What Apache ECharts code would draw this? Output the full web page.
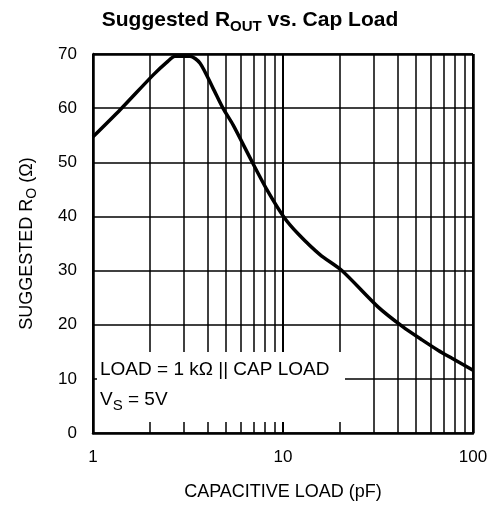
<!DOCTYPE html>
<html><head><meta charset="utf-8">
<script src="https://cdn.jsdelivr.net/npm/echarts@6/dist/echarts.min.js"></script>
<style>html,body{margin:0;padding:0;background:#fff}#c{width:500px;height:514px}</style>
</head><body><div id="c"></div>
<script>
// Data
const capLoad = [1, 1.39, 2.07, 2.45, 2.7, 3.24, 3.66, 4.28, 4.83, 5.46, 6.87, 8.24, 10.1, 12.0, 15.7, 20.4, 31.6, 42.8, 53.9, 65.4, 77.5, 100];
const suggestedRo = [54.7, 59.7, 66.1, 68.5, 69.6, 69.6, 68.3, 63.7, 60.0, 56.9, 50.1, 44.9, 39.9, 36.8, 32.9, 30.0, 23.3, 19.6, 17.2, 15.3, 13.8, 11.6];
const minorGridX = [2, 3, 4, 5, 6, 7, 8, 9, 20, 30, 40, 50, 60, 70, 80, 90];
const yTicks = [0, 10, 20, 30, 40, 50, 60, 70];

const FONT = '"Liberation Sans", Arial, sans-serif';
const chart = echarts.init(document.getElementById('c'), null, {renderer: 'canvas'});
chart.setOption({
  backgroundColor: '#fff',
  animation: false,
  title: {
    text: '{a|Suggested R}{s|OUT}{a| vs. Cap Load}',
    left: 'center', top: 1,
    textStyle: {
      fontFamily: FONT, fontWeight: 'bold', color: '#000',
      rich: {
        a: {fontFamily: FONT, fontWeight: 'bold', fontSize: 21, lineHeight: 28, verticalAlign: 'middle', color: '#000'},
        s: {fontFamily: FONT, fontWeight: 'bold', fontSize: 15, lineHeight: 15, verticalAlign: 'bottom', color: '#000'}
      }
    }
  },
  grid: {left: 93, right: 27, top: 54, bottom: 81, containLabel: false},
  xAxis: {
    type: 'log', logBase: 10, min: 1, max: 100,
    name: 'CAPACITIVE LOAD (pF)', nameLocation: 'middle', nameGap: 50,
    nameTextStyle: {fontFamily: FONT, fontSize: 18, color: '#000'},
    axisLine: {show: true, lineStyle: {color: '#000', width: 2.5}},
    axisTick: {show: false},
    splitLine: {show: true, lineStyle: {color: '#000', width: 2}},
    axisLabel: {fontFamily: FONT, fontSize: 17, color: '#000', margin: 16}
  },
  yAxis: {
    type: 'value', min: 0, max: 70, interval: 10,
    name: '{a|SUGGESTED R}{s|O}{a| (Ω)}', nameLocation: 'middle', nameGap: 54,
    nameTextStyle: {
      fontFamily: FONT, color: '#000',
      rich: {
        a: {fontFamily: FONT, fontSize: 18, lineHeight: 24, verticalAlign: 'middle', color: '#000'},
        s: {fontFamily: FONT, fontSize: 14, lineHeight: 14, verticalAlign: 'bottom', color: '#000'}
      }
    },
    axisLine: {show: true, lineStyle: {color: '#000', width: 2.5}},
    axisTick: {show: false},
    splitLine: {show: true, lineStyle: {color: '#000', width: 1.5}},
    axisLabel: {fontFamily: FONT, fontSize: 17, color: '#000', margin: 16,
      formatter: v => yTicks.includes(v) ? String(v) : ''}
  },
  series: [{
    type: 'line',
    data: capLoad.map((x, i) => [x, suggestedRo[i]]),
    smooth: 0.25,
    symbol: 'none',
    lineStyle: {color: '#000', width: 3.5},
    z: 5,
    markLine: {
      silent: true, symbol: 'none', label: {show: false},
      lineStyle: {color: '#000', width: 1.5, type: 'solid'},
      data: minorGridX.map(v => ({xAxis: v}))
    }
  }, {
    type: 'line', data: [], markLine: {
      silent: true, symbol: 'none', label: {show: false},
      lineStyle: {color: '#000', width: 2.5, type: 'solid'},
      data: [{yAxis: 70}, {xAxis: 100}]
    }
  }],
  graphic: [{
    type: 'group', left: 97, top: 352, z: 100,
    children: [
      {type: 'rect', shape: {x: 0, y: 0, width: 248, height: 70}, style: {fill: '#fff'}, z: 100},
      {type: 'text', x: 3, y: 18, z: 101, style: {
        text: 'LOAD = 1 kΩ || CAP LOAD', fontFamily: FONT, fontSize: 19, fill: '#000', verticalAlign: 'middle'}},
      {type: 'text', x: 3, y: 48, z: 101, style: {
        text: '{a|V}{s|S}{a| = 5V}', verticalAlign: 'middle',
        rich: {
          a: {fontFamily: FONT, fontSize: 19, lineHeight: 26, verticalAlign: 'middle', fill: '#000', color: '#000'},
          s: {fontFamily: FONT, fontSize: 15, lineHeight: 15, verticalAlign: 'bottom', fill: '#000', color: '#000'}
        }}}
    ]
  }]
});
</script></body></html>
